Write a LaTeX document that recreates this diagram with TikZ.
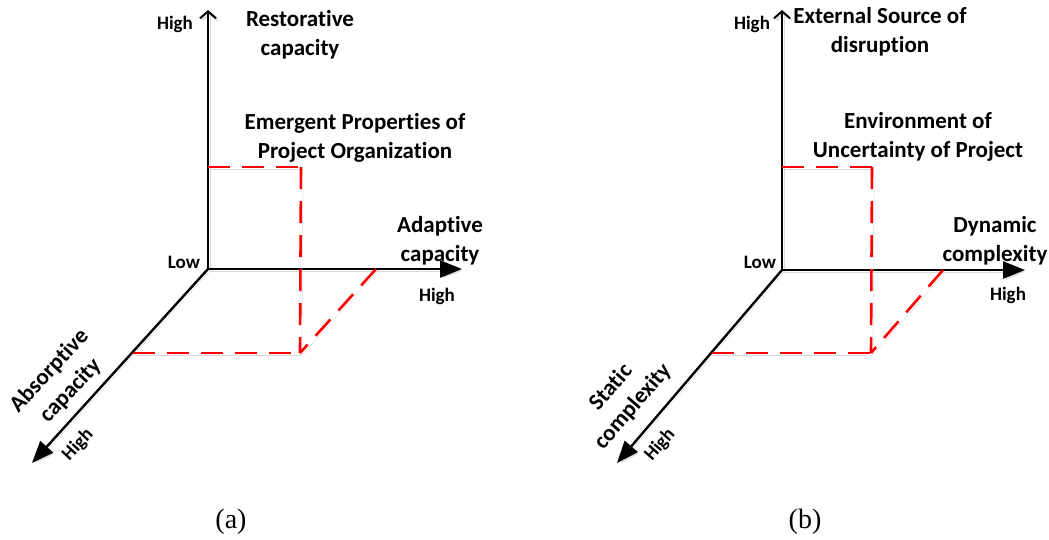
\documentclass[tikz,border=0pt]{standalone}
\usepackage{fontspec}
\setmainfont{Carlito}[Ligatures=NoCommon, RawFeature=-liga]
\newfontfamily\capfont{Liberation Serif}
\usetikzlibrary{positioning, arrows.meta}

\begin{document}
\begin{tikzpicture}[
  x=1pt, y=-1pt,
  lbl/.style={font=\bfseries\fontsize{23}{29}\selectfont, align=center, inner sep=0pt},
  tick/.style={font=\bfseries\fontsize{19}{22}\selectfont, inner sep=0pt},
  captext/.style={font=\capfont\fontsize{28}{32}\selectfont, inner sep=0pt},
  shade/.style={preaction={draw=black!15, transform canvas={xshift=2pt, yshift=-2pt}}},
  axis/.style={shade, draw=black, line width=2.4pt},
  upaxis/.style={axis, -{Straight Barb[length=7pt, width=16pt, line width=2pt]}},
  flataxis/.style={axis, -{Triangle[length=22pt, width=17pt]}},
  guide/.style={shade, draw=red, line width=2.6pt, dash pattern=on 22pt off 12pt}
]
\useasboundingbox (0,0) rectangle (1049,539);

% (a) resilience capacities
\coordinate (oA) at (208,269);
\coordinate (zA) at (208,10);
\coordinate (xA) at (462,269);
\coordinate (yA) at (32,463);
\coordinate (pA) at (208,167);
\coordinate (qA) at (301,167);
\coordinate (rA) at (300,353);
\coordinate (sA) at (133,353);
\coordinate (tA) at (376,269);

\draw[upaxis] (oA) -- (zA);
\draw[flataxis] (oA) -- (xA);
\draw[flataxis] (oA) -- (yA);
\draw[guide] (pA) -- (qA);
\draw[guide] (qA) -- (rA);
\draw[guide] (sA) -- (rA);
\draw[guide] (tA) -- (rA);

\node[tick] (highzA) at (175,24) {High};
\node[tick] (lowA) at (184,262) {Low};
\node[tick] (highxA) at (437,296) {High};
\node[tick, rotate=47] (highyA) at (78,445) {High};
\node[lbl] (restA) at (300,35) {Restorative\\capacity};
\node[lbl] (emergA) at (355,138) {Emergent Properties of\\Project Organization};
\node[lbl] (adaptA) at (440,241) {Adaptive\\capacity};
\node[lbl, rotate=47] (absorbA) at (60,381) {Absorptive\\capacity};
\node[captext] (capA) at (231,522) {(a)};

% (b) project complexity
\coordinate (oB) at (782,270);
\coordinate (zB) at (782,10);
\coordinate (xB) at (1025,270);
\coordinate (yB) at (617,463);
\coordinate (pB) at (782,167);
\coordinate (qB) at (872,167);
\coordinate (rB) at (871,353);
\coordinate (sB) at (712,353);
\coordinate (tB) at (943,270);

\draw[upaxis] (oB) -- (zB);
\draw[flataxis] (oB) -- (xB);
\draw[flataxis] (oB) -- (yB);
\draw[guide] (pB) -- (qB);
\draw[guide] (qB) -- (rB);
\draw[guide] (sB) -- (rB);
\draw[guide] (tB) -- (rB);

\node[tick] (highzB) at (752,24) {High};
\node[tick] (lowB) at (760,262) {Low};
\node[tick] (highxB) at (1008,295) {High};
\node[tick, rotate=49] (highyB) at (660,445) {High};
\node[lbl] (extB) at (880,32) {External Source of\\disruption};
\node[lbl] (envB) at (918,137) {Environment of\\Uncertainty of Project};
\node[lbl] (dynB) at (995,241) {Dynamic\\complexity};
\node[lbl, rotate=49] (statB) at (622,397) {Static\\complexity};
\node[captext] (capB) at (805,522) {(b)};
\end{tikzpicture}
\end{document}
